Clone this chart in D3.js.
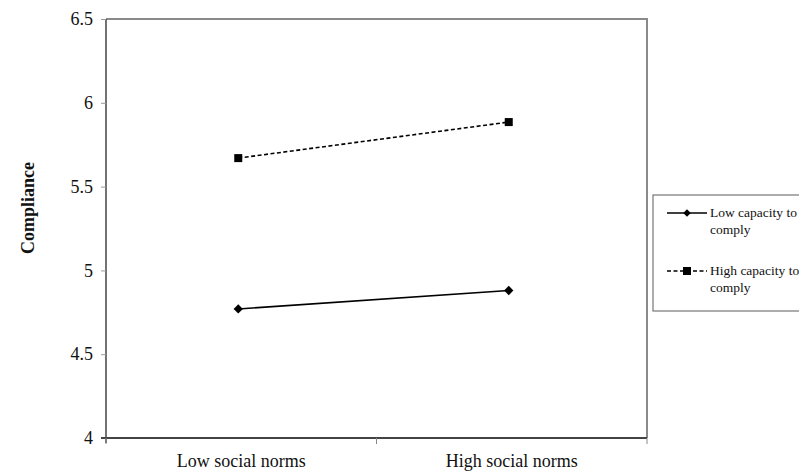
<!DOCTYPE html>
<html>
<head>
<meta charset="utf-8">
<script src="https://cdn.jsdelivr.net/npm/d3@7"></script>
<style>
  body { margin: 0; background: #fff; }
  svg { display: block; }
</style>
</head>
<body>
<svg id="chart" width="799" height="472"></svg>
<script>
const categories = ['Low social norms', 'High social norms'];
const lowCapacity = [4.77, 4.88];
const highCapacity = [5.67, 5.885];
const yTicks = [4, 4.5, 5, 5.5, 6, 6.5];
const seriesNames = [['Low capacity to', 'comply'], ['High capacity to', 'comply']];

const FONT = '"Liberation Serif", "Times New Roman", Times, serif';
const margin = { left: 106, top: 19, right: 647, bottom: 438 };

const svg = d3.select('#chart');

const x = d3.scaleBand()
  .domain(categories)
  .range([margin.left, margin.right])
  .paddingInner(0)
  .paddingOuter(0);

const y = d3.scaleLinear()
  .domain([4, 6.5])
  .range([margin.bottom, margin.top]);

// frame: top and right in grey
svg.append('path')
  .attr('d', `M${margin.left},${margin.top}H${margin.right}V${margin.bottom}`)
  .attr('fill', 'none')
  .attr('stroke', '#8a8a8a')
  .attr('stroke-width', 2);

// y axis
const yAxis = svg.append('g')
  .attr('transform', `translate(${margin.left},0)`)
  .call(d3.axisLeft(y).tickValues(yTicks).tickSize(5).tickPadding(8).tickFormat(d3.format('')));
yAxis.attr('font-family', FONT).attr('font-size', 18);
yAxis.selectAll('.tick text').style('font-family', FONT).attr('fill', '#111');
yAxis.select('.domain').attr('stroke', '#444').attr('stroke-width', 1.5).attr('d', `M0,${margin.bottom + 5}V${margin.top}`);
yAxis.selectAll('.tick line').attr('stroke', '#999');

// x axis, ticks at band edges
const edges = [margin.left, ...categories.slice(1).map(c => x(c)), margin.right];
const xAxis = svg.append('g')
  .attr('transform', `translate(0,${margin.bottom})`);
xAxis.append('line')
  .attr('x1', margin.left - 5).attr('x2', margin.right)
  .attr('stroke', '#444').attr('stroke-width', 1.8);
xAxis.selectAll('line.tk')
  .data(edges)
  .join('line')
  .attr('class', 'tk')
  .attr('x1', d => d).attr('x2', d => d)
  .attr('y1', 0).attr('y2', 6)
  .attr('stroke', '#888');
xAxis.selectAll('text')
  .data(categories)
  .join('text')
  .attr('x', d => x(d) + x.bandwidth() / 2)
  .attr('y', 29)
  .attr('text-anchor', 'middle')
  .style('font-family', FONT)
  .attr('font-size', 18)
  .attr('fill', '#111')
  .text(d => d);

// y title
svg.append('text')
  .attr('transform', 'translate(34,208) rotate(-90)')
  .attr('text-anchor', 'middle')
  .style('font-family', FONT)
  .attr('font-size', 18)
  .attr('font-weight', 'bold')
  .attr('fill', '#111')
  .text('Compliance');

const cx = d => x(d) + x.bandwidth() / 2 - 3;
const line = d3.line().x(d => cx(d[0])).y(d => y(d[1]));

// low capacity: solid with diamonds
const lowData = categories.map((c, i) => [c, lowCapacity[i]]);
svg.append('path')
  .attr('d', line(lowData))
  .attr('fill', 'none')
  .attr('stroke', '#000')
  .attr('stroke-width', 1.6);
svg.selectAll('path.dia')
  .data(lowData)
  .join('path')
  .attr('class', 'dia')
  .attr('d', d3.symbol(d3.symbolDiamond2, 55))
  .attr('transform', d => `translate(${cx(d[0])},${y(d[1])})`)
  .attr('fill', '#000');

// high capacity: dashed with squares
const highData = categories.map((c, i) => [c, highCapacity[i]]);
svg.append('path')
  .attr('d', line(highData))
  .attr('fill', 'none')
  .attr('stroke', '#000')
  .attr('stroke-width', 1.6)
  .attr('stroke-dasharray', '4,2.5');
svg.selectAll('rect.sq')
  .data(highData)
  .join('rect')
  .attr('class', 'sq')
  .attr('x', d => cx(d[0]) - 4)
  .attr('y', d => y(d[1]) - 4)
  .attr('width', 8).attr('height', 8)
  .attr('fill', '#000');

// legend
const lg = svg.append('g');
lg.append('rect')
  .attr('x', 653).attr('y', 195)
  .attr('width', 160).attr('height', 116)
  .attr('fill', '#fff')
  .attr('stroke', '#777')
  .attr('stroke-width', 1.2);

const legendRows = [
  { y: 213, dash: null, marker: 'diamond' },
  { y: 271, dash: '4,2.5', marker: 'square' }
];
legendRows.forEach((r, i) => {
  lg.append('line')
    .attr('x1', 667).attr('x2', 707)
    .attr('y1', r.y).attr('y2', r.y)
    .attr('stroke', '#000').attr('stroke-width', 1.3)
    .attr('stroke-dasharray', r.dash);
  if (r.marker === 'diamond') {
    lg.append('path')
      .attr('d', d3.symbol(d3.symbolDiamond2, 36))
      .attr('transform', `translate(687,${r.y})`)
      .attr('fill', '#000');
  } else {
    lg.append('rect')
      .attr('x', 683).attr('y', r.y - 4)
      .attr('width', 8).attr('height', 8)
      .attr('fill', '#000');
  }
  lg.append('text')
    .attr('x', 710).attr('y', r.y + 4)
    .style('font-family', FONT)
    .attr('font-size', 13.5)
    .attr('fill', '#111')
    .selectAll('tspan')
    .data(seriesNames[i])
    .join('tspan')
    .attr('x', 710)
    .attr('dy', (d, j) => j === 0 ? 0 : 17)
    .text(d => d);
});
</script>
</body>
</html>
